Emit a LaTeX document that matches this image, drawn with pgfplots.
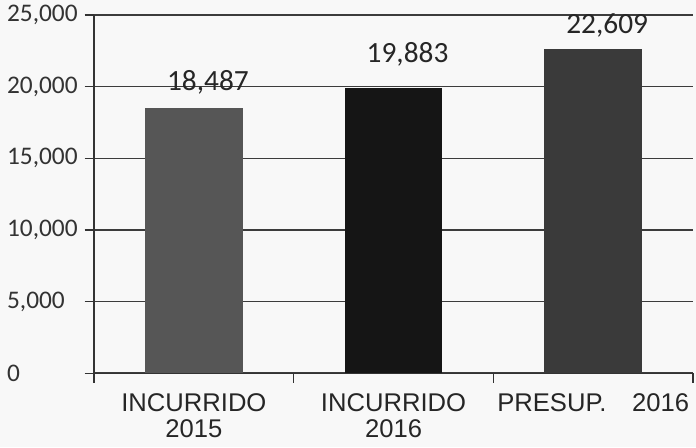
\documentclass[border=0pt]{standalone}
\usepackage{pgfplots}
\pgfplotsset{compat=1.18}
\usepackage{fontspec}
\setmainfont{Carlito}
\newfontfamily\arial{Liberation Sans}
\usetikzlibrary{backgrounds}
\definecolor{barA}{HTML}{565656}
\definecolor{barB}{HTML}{151515}
\definecolor{barC}{HTML}{3A3A3A}
\definecolor{gridc}{HTML}{3C3C3C}
\definecolor{bg}{HTML}{F8F8F8}
\begin{document}
\begin{tikzpicture}
\begin{axis}[
  scale only axis, width=449pt, height=268.5pt,
  xmin=-0.5, xmax=2.5, ymin=0, ymax=25000,
  axis lines=left, axis line style={-, line width=1pt, color=black!80},
  ybar, bar width=0.49,
  every axis plot/.append style={bar shift=0pt, draw=none},
  xtick={-0.5,0.5,1.5,2.5},
  x tick label as interval,
  xticklabels={INCURRIDO\\2015, INCURRIDO\\2016, PRESUP.\quad 2016},
  xticklabel style={font=\arial\fontsize{19.2}{19.8}\selectfont, align=center, text=black!85, yshift=-4.5pt},
  ytick={0,5000,10000,15000,20000,25000},
  scaled y ticks=false,
  ymajorgrids, grid style={gridc, line width=1.1pt},
  tick align=outside, major tick length=7pt, tick style={black!80, line width=1pt},
  yticklabel style={font=\fontsize{19}{21}\selectfont, text width=54pt, align=left, inner sep=0pt, anchor=east, xshift=-4pt, text=black!80},
  nodes near coords,
  nodes near coords style={font=\fontsize{22}{24}\selectfont, anchor=base, xshift=10.5pt, text=black!85},
  /pgf/number format/1000 sep={,},
  /pgf/number format/assume math mode=true,
]
\addplot[fill=barA, nodes near coords style={yshift=13.5pt}] coordinates {(0,18487)};
\addplot[fill=barB, nodes near coords style={yshift=19.5pt}] coordinates {(1,19883)};
\addplot[fill=barC, nodes near coords style={yshift=12pt}] coordinates {(2,22609)};
\coordinate (sw) at (rel axis cs:0,0);
\coordinate (ne) at (rel axis cs:1,1);
\end{axis}
\begin{scope}[on background layer]
\path[fill=bg] ([xshift=-70.5pt,yshift=-55.5pt]sw) rectangle ([xshift=2.25pt,yshift=11.25pt]ne);
\end{scope}
\end{tikzpicture}
\end{document}
